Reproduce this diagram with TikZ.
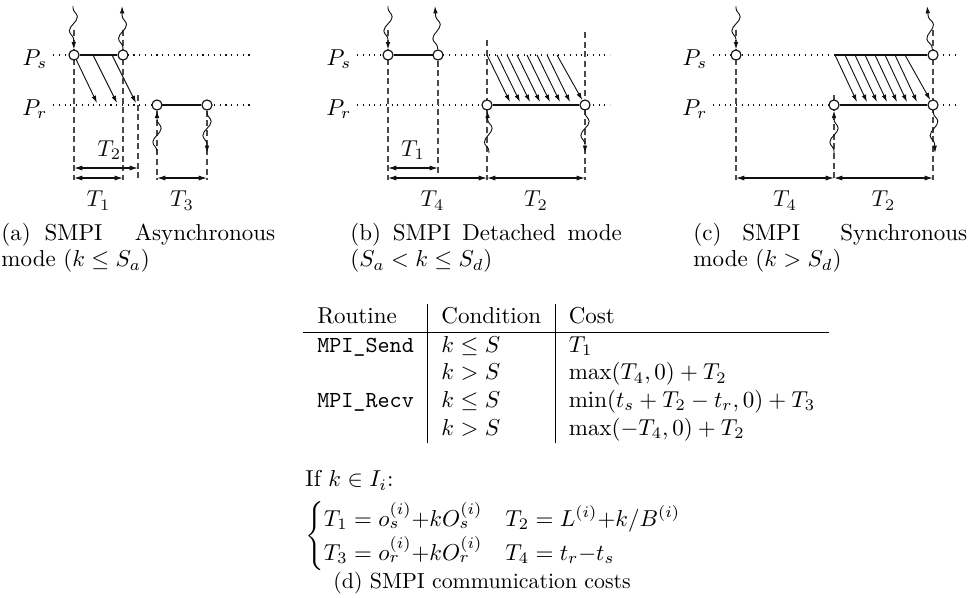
\documentclass[tikz,border=0pt]{standalone}
\usepackage{amsmath,amssymb}
\usepackage{xcolor}
\usepackage{tikz}
\usetikzlibrary{arrows.meta,calc,backgrounds,decorations.pathmorphing}
\definecolor{Guide}{HTML}{4A4A4A}
\definecolor{Ink}{HTML}{111111}

\begin{document}
\begin{tikzpicture}[
  x=0.4348pt,y=-0.4348pt,
  event/.style={circle,draw=Ink,fill=white,inner sep=0pt,minimum size=4.4pt,line width=0.5pt},
  lbl/.style={inner sep=1pt,anchor=east},
  proc/.style={dotted,line width=0.5pt,color=Ink},
  guide/.style={dash pattern=on 2.6pt off 1.6pt,line width=0.5pt,color=Guide},
  busy/.style={line width=0.9pt,color=Ink},
  msg/.style={-{Latex[length=3.2pt,width=2pt]},line width=0.4pt,color=Ink},
  wavy/.style={-{Latex[length=3.2pt,width=2pt]},line width=0.4pt,color=Ink,decorate,
    decoration={snake,amplitude=1.8pt,segment length=12pt,pre length=1pt,post length=3pt}},
  span/.style={{Latex[length=3.6pt,width=2.2pt]}-{Latex[length=3.6pt,width=2.2pt]},line width=0.5pt,color=Ink},
  capsub/.style={font=\fontsize{10}{11.2}\selectfont,align=left,inner sep=0pt,anchor=west}
]
\useasboundingbox (0,0) rectangle (971,597);

% (a) asynchronous mode
\node[lbl] (psA) at (50,59) {$P_s$};
\node[lbl] (prA) at (50,109) {$P_r$};
\coordinate (psA0) at (53,55);  \coordinate (psA1) at (250,55);
\coordinate (prA0) at (53,105); \coordinate (prA1) at (250,105);
\node[event] (a1) at (74,55) {};
\node[event] (a2) at (123,55) {};
\node[event] (a3) at (157,105) {};
\node[event] (a4) at (207,105) {};
\coordinate (aR) at (138,95);
\begin{scope}[on background layer]
\draw[proc] (psA0) -- (psA1);
\draw[proc] (prA0) -- (prA1);
\draw[guide] (a1 |- 0,30) -- (a1 |- 0,180);
\draw[guide] (a2 |- 0,30) -- (a2 |- 0,180);
\draw[guide] (aR) -- (aR |- 0,178);
\draw[guide] (a3) -- (a3 |- 0,180);
\draw[guide] (a4) -- (a4 |- 0,180);
\end{scope}
\draw[busy] (a1) -- (a2);
\draw[busy] (a3) -- (a4);
\draw[msg] (a1) -- ($(a1)+(23,48)$);
\foreach \dx in {19,38} \draw[msg] ($(a1)+(\dx,0)$) -- ++(24,48);
\coordinate (a1in) at (73,6);   \draw[wavy] (a1in) -- (a1);
\coordinate (a2out) at (122,6); \draw[wavy] (a2) -- (a2out);
\coordinate (a3in) at (157,153); \draw[wavy] (a3in) -- (a3);
\coordinate (a4out) at (207,153); \draw[wavy] (a4) -- (a4out);
\draw[span] (a1 |- 0,168) -- node[above,pos=0.55] {$T_2$} (aR |- 0,168);
\draw[span] (a1 |- 0,178) -- node[below=2pt] {$T_1$} (a2 |- 0,178);
\draw[span] (a3 |- 0,178) -- node[below=2pt] {$T_3$} (a4 |- 0,178);

% (b) detached mode
\node[lbl] (psB) at (354,59) {$P_s$};
\node[lbl] (prB) at (354,109) {$P_r$};
\coordinate (psB0) at (357,55);  \coordinate (psB1) at (610,55);
\coordinate (prB0) at (357,105); \coordinate (prB1) at (610,105);
\node[event] (b1) at (388,55) {};
\node[event] (b2) at (438,55) {};
\node[event] (b3) at (487,105) {};
\node[event] (b4) at (585,105) {};
\coordinate (bS) at (487,55);
\begin{scope}[on background layer]
\draw[proc] (psB0) -- (psB1);
\draw[proc] (prB0) -- (prB1);
\draw[guide] (b1 |- 0,30) -- (b1 |- 0,180);
\draw[guide] (b2) -- (b2 |- 0,173);
\draw[guide] (b3 |- 0,40) -- (b3 |- 0,180);
\draw[guide] (b4 |- 0,32) -- (b4 |- 0,180);
\end{scope}
\draw[busy] (b1) -- (b2);
\draw[busy] (b3) -- (b4);
\foreach \dx in {0,10,...,60} \draw[msg] ($(bS)+(\dx,0)$) -- ++(23,47);
\draw[msg] ($(bS)+(70,0)$) -- (b4);
\coordinate (b1in) at (388,6);   \draw[wavy] (b1in) -- (b1);
\coordinate (b2out) at (435,6);  \draw[wavy] (b2) -- (b2out);
\coordinate (b3in) at (489,153); \draw[wavy] (b3in) -- (b3);
\coordinate (b4out) at (585,153); \draw[wavy] (b4) -- (b4out);
\draw[span] (b1 |- 0,168) -- node[above] {$T_1$} (b2 |- 0,168);
\draw[span] (b1 |- 0,178) -- node[below=2pt,pos=0.45] {$T_4$} (b3 |- 0,178);
\draw[span] (b3 |- 0,178) -- node[below=2pt] {$T_2$} (b4 |- 0,178);

% (c) synchronous mode
\node[lbl] (psC) at (710,59) {$P_s$};
\node[lbl] (prC) at (710,109) {$P_r$};
\coordinate (psC0) at (713,55);  \coordinate (psC1) at (958,55);
\coordinate (prC0) at (713,105); \coordinate (prC1) at (958,105);
\node[event] (c1) at (736,55) {};
\node[event] (c2) at (933,55) {};
\node[event] (c3) at (834,105) {};
\node[event] (c4) at (933,105) {};
\coordinate (cS) at (835,55);
\begin{scope}[on background layer]
\draw[proc] (psC0) -- (psC1);
\draw[proc] (prC0) -- (prC1);
\draw[guide] (c1 |- 0,30) -- (c1 |- 0,180);
\draw[guide] (c3 |- 0,95) -- (c3 |- 0,180);
\draw[guide] (c2 |- 0,30) -- (c2 |- 0,180);
\end{scope}
\draw[busy] (cS) -- (c2);
\draw[busy] (c3) -- (c4);
\foreach \dx in {0,10,...,60} \draw[msg] ($(cS)+(\dx,0)$) -- ++(22,47);
\draw[msg] ($(cS)+(70,0)$) -- (c4);
\coordinate (c1in) at (736,6);   \draw[wavy] (c1in) -- (c1);
\coordinate (c2out) at (927,6);  \draw[wavy] (c2) -- (c2out);
\coordinate (c3in) at (834,153); \draw[wavy] (c3in) -- (c3);
\coordinate (c4out) at (935,153); \draw[wavy] (c4) -- (c4out);
\draw[span] (c1 |- 0,178) -- node[below=2pt] {$T_4$} (c3 |- 0,178);
\draw[span] (c3 |- 0,178) -- node[below=2pt] {$T_2$} (c4 |- 0,178);

% sub-captions
\node[capsub] (capA) at (1,248) {\makebox[119pt][l]{(a)\hspace{6pt}SMPI\hfill Asynchronous}\\mode ($k\le S_a$)};
\node[capsub] (capB) at (350,248) {\makebox[118pt][s]{(b) SMPI Detached mode}\\($S_a<k\le S_d$)};
\node[capsub] (capC) at (693,248) {\makebox[119pt][l]{(c)\hspace{9pt}SMPI\hfill Synchronous}\\mode ($k>S_d$)};

% (d) cost table
\node[anchor=north west,inner sep=0pt] (costs) at (303,304) {%
  \begin{tabular}{l|l|l}
  Routine & Condition & Cost\\ \hline
  \texttt{MPI\_Send} & $k\le S$ & $T_1$\\
                     & $k>S$    & $\max(T_4,0)+T_2$\\
  \texttt{MPI\_Recv} & $k\le S$ & $\min(t_s+T_2-t_r,0)+T_3$\\
                     & $k>S$    & $\max(-T_4,0)+T_2$
  \end{tabular}};
\node[anchor=north west,inner sep=0pt,align=left] (params) at (305,470) {If $k\in I_i$:\\[4pt]
  $\begin{cases}
  T_1 = o_s^{(i)}{+}kO_s^{(i)} & T_2 = L^{(i)}{+}k/B^{(i)}\\
  T_3 = o_r^{(i)}{+}kO_r^{(i)} & T_4 = t_r{-}t_s
  \end{cases}$};
\node[anchor=west,inner sep=0pt,font=\fontsize{9.5}{11}\selectfont] (capD) at (333,583) {(d) SMPI communication costs};
\end{tikzpicture}
\end{document}
